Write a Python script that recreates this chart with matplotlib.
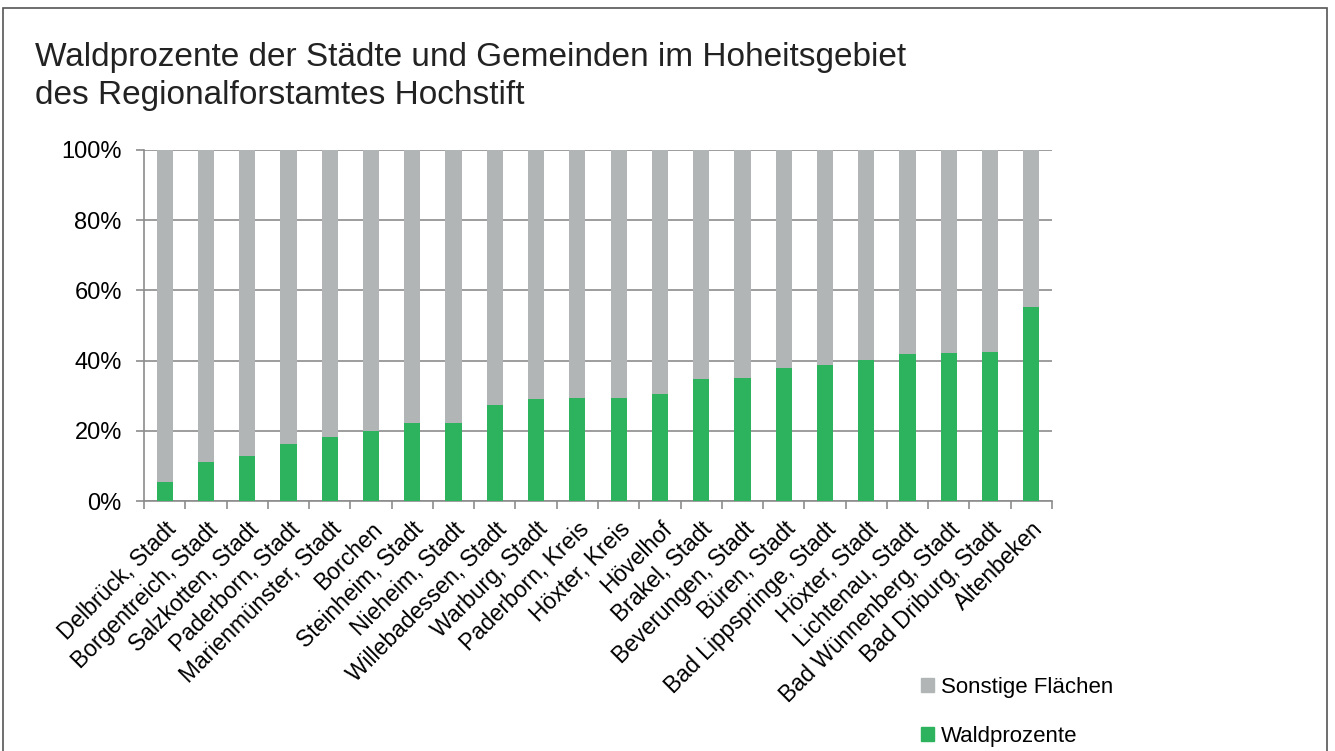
import numpy as np
import matplotlib
matplotlib.use("Agg")
import matplotlib.pyplot as plt
from matplotlib.patches import Rectangle, Patch
from matplotlib.ticker import PercentFormatter

plt.rcParams["font.family"] = ["Liberation Sans", "DejaVu Sans"]

# data
gemeinden = [
    "Delbrück, Stadt", "Borgentreich, Stadt", "Salzkotten, Stadt", "Paderborn, Stadt",
    "Marienmünster, Stadt", "Borchen", "Steinheim, Stadt", "Nieheim, Stadt",
    "Willebadessen, Stadt", "Warburg, Stadt", "Paderborn, Kreis", "Höxter, Kreis",
    "Hövelhof", "Brakel, Stadt", "Beverungen, Stadt", "Büren, Stadt",
    "Bad Lippspringe, Stadt", "Höxter, Stadt", "Lichtenau, Stadt",
    "Bad Wünnenberg, Stadt", "Bad Driburg, Stadt", "Altenbeken",
]
waldprozente = [5.3, 11.0, 12.9, 16.2, 18.2, 20.0, 22.2, 22.2, 27.3, 29.1, 29.3,
                29.4, 30.5, 34.8, 35.0, 38.0, 38.7, 40.2, 41.9, 42.1, 42.5, 55.3]
sonstige = [100 - w for w in waldprozente]

GREEN = "#2db35d"
GREY = "#b2b5b5"
AXC = "#8c8c8c"

fig = plt.figure(figsize=(13.35, 7.51), dpi=100)
W, H = 1335, 751

# outer frame
fig.patches.append(Rectangle((3 / W, -0.01), 1324 / W, 1 - 8 / H + 0.01,
                             transform=fig.transFigure, fill=False,
                             edgecolor="#555555", linewidth=1.2))

fig.text(35 / W, 1 - 66 / H, "Waldprozente der Städte und Gemeinden im Hoheitsgebiet",
         fontsize=24, va="baseline", ha="left", color="#222222")
fig.text(35 / W, 1 - 104 / H, "des Regionalforstamtes Hochstift",
         fontsize=24, va="baseline", ha="left", color="#222222")

left, right, top, bottom = 144, 1052, 150, 501
ax = fig.add_axes([left / W, 1 - bottom / H, (right - left) / W, (bottom - top) / H])

x = np.arange(len(gemeinden))
ax.bar(x, waldprozente, width=0.39, color=GREEN, zorder=3, label="Waldprozente")
ax.bar(x, sonstige, width=0.39, bottom=waldprozente, color=GREY, zorder=3,
       label="Sonstige Flächen")

ax.set_xlim(-0.5, len(gemeinden) - 0.5)
ax.set_ylim(0, 100)
ax.set_yticks(np.arange(0, 101, 20))
ax.yaxis.set_major_formatter(PercentFormatter(decimals=0))
ax.yaxis.grid(True, color=AXC, linewidth=1.2, zorder=0)

# category ticks at boundaries, labels at centres
ax.set_xticks(np.arange(-0.5, len(gemeinden)), minor=False)
ax.set_xticklabels([])
ax.set_xticks(x, minor=True)
ax.set_xticklabels(gemeinden, minor=True, rotation=45, ha="right",
                   rotation_mode="anchor", fontsize=16.5)
ax.tick_params(axis="x", which="minor", length=0, pad=12)
ax.tick_params(axis="x", which="major", length=6, color=AXC, width=1.2)
ax.tick_params(axis="y", length=6, color=AXC, width=1.2, labelsize=17, pad=10)

for s in ["top", "right"]:
    ax.spines[s].set_visible(False)
for s in ["left", "bottom"]:
    ax.spines[s].set_color(AXC)
    ax.spines[s].set_linewidth(1.2)

handles = [Patch(color=GREY, label="Sonstige Flächen"),
           Patch(color=GREEN, label="Waldprozente")]
fig.legend(handles=handles, loc="upper left", bbox_to_anchor=(912 / W, 1 - 668 / H),
           frameon=False, fontsize=16, handlelength=0.6, handleheight=0.6,
           handletextpad=0.3, labelspacing=1.25, borderaxespad=0)

fig.savefig("out.png", dpi=100)
